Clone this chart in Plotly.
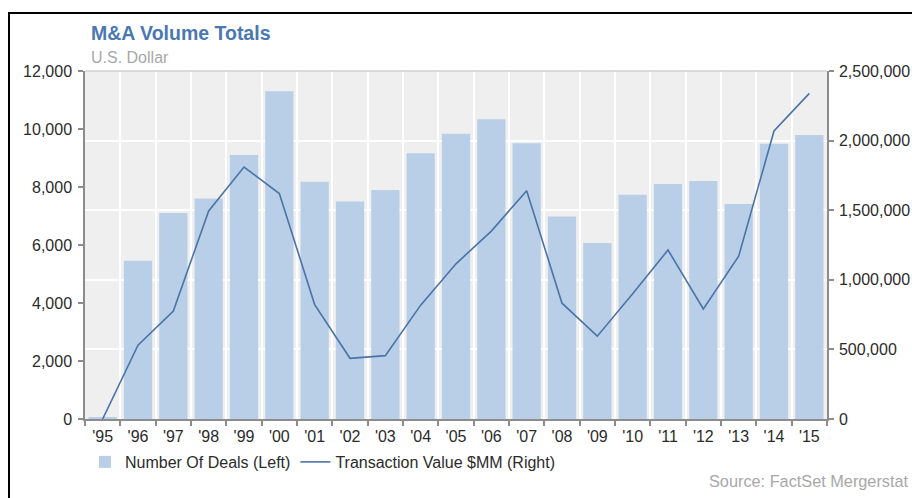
import plotly.graph_objects as go

# ---- data ----
years = ["'95", "'96", "'97", "'98", "'99", "'00", "'01", "'02", "'03", "'04", "'05",
         "'06", "'07", "'08", "'09", "'10", "'11", "'12", "'13", "'14", "'15"]
deals = [40, 5460, 7100, 7600, 9100, 11300, 8180, 7500, 7900, 9160, 9840,
         10340, 9510, 6980, 6070, 7730, 8100, 8210, 7410, 9490, 9790]
value_mm = [0, 530000, 775000, 1495000, 1810000, 1620000, 822000, 436000, 455000, 818000, 1115000,
            1350000, 1640000, 832000, 595000, 900000, 1214000, 790000, 1170000, 2069000, 2339000]
left_ticks = [0, 2000, 4000, 6000, 8000, 10000, 12000]
right_ticks = [0, 500000, 1000000, 1500000, 2000000, 2500000]

W, H = 912, 498
L, R, T, B = 85, 827, 71, 419  # plot-area pixel box


def px(x):
    return (x - L) / (R - L)


def py(y):
    return (B - y) / (B - T)


FONT = "Liberation Sans, Arial, sans-serif"
TXT = "#2b2b2b"
AXC = "#8c8c8c"
TF = 16

fig = go.Figure()
fig.add_trace(go.Bar(
    x=years, y=deals, name="Number Of Deals (Left)",
    marker=dict(color="#b9cfe8", line=dict(width=0)),
    yaxis="y",
))
fig.add_trace(go.Scatter(
    x=years, y=value_mm, name="Transaction Value $MM (Right)",
    mode="lines", line=dict(color="#4a73a6", width=1.6),
    yaxis="y2",
))

fig.update_layout(
    width=W, height=H,
    margin=dict(l=L, r=W - R, t=T, b=H - B, pad=0, autoexpand=False),
    paper_bgcolor="white",
    plot_bgcolor="#efefef",
    font=dict(family=FONT, size=TF, color=TXT),
    bargap=0.2,
    showlegend=True,
    legend=dict(
        orientation="h", x=px(85), xanchor="left", y=py(462), yanchor="middle",
        font=dict(size=TF, color=TXT), bgcolor="rgba(0,0,0,0)",
        itemwidth=30, traceorder="normal",
    ),
    xaxis=dict(
        type="category", tickson="boundaries", automargin=False,
        showgrid=True, gridcolor="white", gridwidth=2,
        ticks="outside", ticklen=5, tickcolor=AXC, tickwidth=1.5,
        showline=True, linecolor=AXC, linewidth=1.5,
        tickfont=dict(size=TF, color=TXT), ticklabelstandoff=2,
        range=[-0.5, len(years) - 0.5],
        zeroline=False,
    ),
    yaxis=dict(
        range=[0, 12000], tickvals=left_ticks, tickformat=",d", automargin=False,
        showgrid=False, zeroline=False,
        ticks="outside", ticklen=5, tickcolor=AXC, tickwidth=1.5,
        showline=True, linecolor=AXC, linewidth=1.5,
        tickfont=dict(size=TF, color=TXT), ticklabelstandoff=3,
    ),
    yaxis2=dict(
        overlaying="y", side="right", automargin=False,
        range=[0, 2500000], tickvals=right_ticks, tickformat=",d",
        showgrid=True, gridcolor="white", gridwidth=2, zeroline=False,
        ticks="outside", ticklen=5, tickcolor=AXC, tickwidth=1.5,
        showline=True, linecolor=AXC, linewidth=1.5,
        tickfont=dict(size=TF, color=TXT), ticklabelstandoff=2,
        layer="below traces",
    ),
)

# top edge of plot area (light)
fig.add_shape(type="line", xref="paper", yref="paper", x0=0, x1=1, y0=1, y1=1,
              line=dict(color="#d0d0d0", width=1.5))
# outer frame (partially cropped)
fig.add_shape(type="rect", xref="paper", yref="paper",
              x0=px(9), x1=px(930), y0=py(520), y1=py(13),
              line=dict(color="black", width=2), fillcolor="rgba(0,0,0,0)", layer="above")

fig.add_annotation(text="<b>M&A Volume Totals</b>", xref="paper", yref="paper",
                   x=px(89), y=py(33), xanchor="left", yanchor="middle", showarrow=False,
                   font=dict(family=FONT, size=19.5, color="#4a78b2"))
fig.add_annotation(text="U.S. Dollar", xref="paper", yref="paper",
                   x=px(89), y=py(57), xanchor="left", yanchor="middle", showarrow=False,
                   font=dict(family=FONT, size=16, color="#a8a8a8"))
fig.add_annotation(text="Source: FactSet Mergerstat", xref="paper", yref="paper",
                   x=px(911), y=py(481), xanchor="right", yanchor="middle", showarrow=False,
                   font=dict(family=FONT, size=16.3, color="#a8a8a8"))

fig.write_html("out.html")
